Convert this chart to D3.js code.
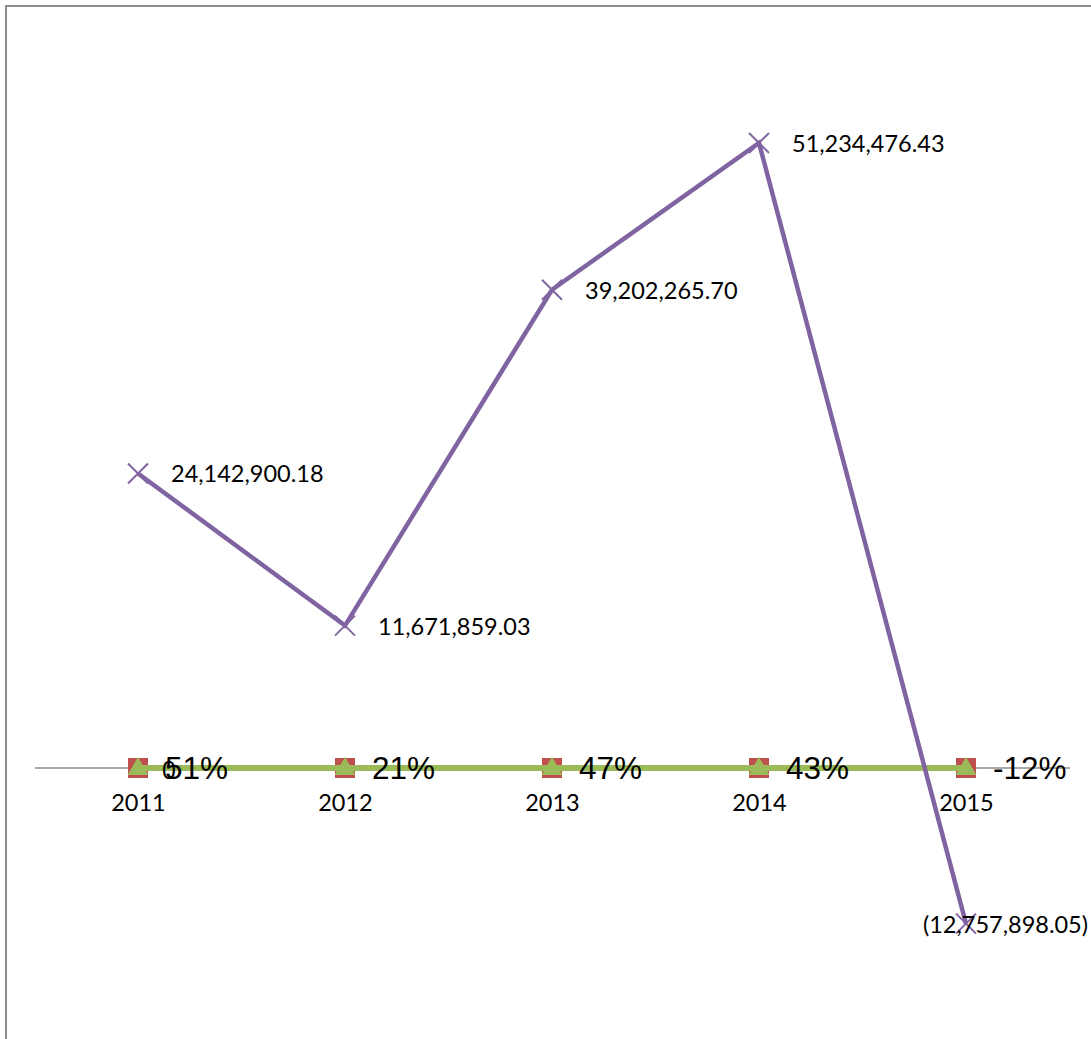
<!DOCTYPE html>
<html>
<head>
<meta charset="utf-8">
<script src="https://cdn.jsdelivr.net/npm/d3@7"></script>
<style>
  html, body { margin: 0; padding: 0; background: #fff; }
  svg { display: block; }
</style>
</head>
<body>
<svg id="chart" width="1091" height="1039"></svg>
<script>
// Years on the category axis
const years = ["2011", "2012", "2013", "2014", "2015"];
// Net amount per year (purple series)
const amounts = [24142900.18, 11671859.03, 39202265.70, 51234476.43, -12757898.05];
// Growth rate per year (green series)
const growth = [0.51, 0.21, 0.47, 0.43, -0.12];
// Baseline series (red squares), all zero
const baseline = [0, 0, 0, 0, 0];

const W = 1091, H = 1039;
const svg = d3.select("#chart");

// Chart frame
svg.append("rect")
  .attr("x", 6).attr("y", 6)
  .attr("width", W + 10).attr("height", H + 10)
  .attr("fill", "#fff").attr("stroke", "#8c8c8c").attr("stroke-width", 2);

const x = d3.scalePoint().domain(years).range([138, 966]);
const y = d3.scaleLinear().domain([-20e6, 60e6]).range([1012, 36]);

const fmtAmount = v => {
  const s = d3.format(",.2f")(Math.abs(v));
  return v < 0 ? "(" + s + ")" : s;
};
const fmtPct = v => d3.format(".0%")(v).replace("\u2212", "-");

const labelFont = "Lato, 'Open Sans', sans-serif";
const pctFont = "'Liberation Sans', Arial, sans-serif";

// Horizontal category axis at zero
const axisG = svg.append("g").attr("transform", `translate(0,${y(0)})`);
const xAxis = d3.axisBottom(x).tickSize(0).tickPadding(26);
axisG.call(xAxis);
axisG.select(".domain").remove();
axisG.append("line")
  .attr("x1", 35).attr("x2", 1070)
  .attr("stroke", "#8c8c8c").attr("stroke-width", 1.5);
axisG.selectAll(".tick text")
  .attr("font-family", labelFont)
  .attr("font-size", 23.5).attr("fill", "#000");

// Baseline series: red squares
const sq = 20;
svg.append("g").selectAll("rect").data(baseline).join("rect")
  .attr("x", (d, i) => x(years[i]) - sq / 2)
  .attr("y", d => y(d) - sq / 2)
  .attr("width", sq).attr("height", sq)
  .attr("fill", "#c0504d");

// Growth series: green line + triangles (values are tiny on this scale)
const gLine = d3.line().x((d, i) => x(years[i])).y(d => y(d));
svg.append("path").datum(growth)
  .attr("d", gLine).attr("fill", "none")
  .attr("stroke", "#9bbb59").attr("stroke-width", 6);
const tri = d3.symbol().type(d3.symbolTriangle).size(190);
svg.append("g").selectAll("path").data(growth).join("path")
  .attr("d", tri)
  .attr("transform", (d, i) => `translate(${x(years[i])},${y(d) + 1})`)
  .attr("fill", "#9bbb59");

// Baseline value label
svg.append("text")
  .attr("x", x(years[0]) + 24).attr("y", y(baseline[0]) + 11)
  .attr("font-family", pctFont)
  .attr("font-size", 25).attr("fill", "#000")
  .text(d3.format("d")(baseline[0]));

// Growth labels
svg.append("g").selectAll("text").data(growth).join("text")
  .attr("x", (d, i) => x(years[i]) + 27)
  .attr("y", d => y(d) + 11)
  .attr("font-family", pctFont)
  .attr("font-size", 31.5).attr("fill", "#000")
  .text(d => fmtPct(d));

// Amount series: purple line with X markers
const aLine = d3.line().x((d, i) => x(years[i])).y(d => y(d));
svg.append("path").datum(amounts)
  .attr("d", aLine).attr("fill", "none")
  .attr("stroke", "#8064a2").attr("stroke-width", 4.5)
  .attr("stroke-linejoin", "miter");
const xm = 10;
const marks = svg.append("g").selectAll("g").data(amounts).join("g")
  .attr("transform", (d, i) => `translate(${x(years[i])},${y(d)})`);
marks.append("path")
  .attr("d", `M${-xm},${-xm}L${xm},${xm}M${-xm},${xm}L${xm},${-xm}`)
  .attr("stroke", "#8064a2").attr("stroke-width", 2).attr("fill", "none");

// Amount labels, kept inside the frame
svg.append("g").selectAll("text").data(amounts).join("text")
  .attr("x", (d, i) => x(years[i]) + 33)
  .attr("y", d => y(d) + 9)
  .attr("font-family", labelFont)
  .attr("font-size", 23.5).attr("fill", "#000")
  .text(d => fmtAmount(d))
  .each(function () {
    const b = this.getBBox();
    const limit = W - 3;
    if (b.x + b.width > limit) {
      d3.select(this).attr("x", limit - b.width);
    }
  });
</script>
</body>
</html>
